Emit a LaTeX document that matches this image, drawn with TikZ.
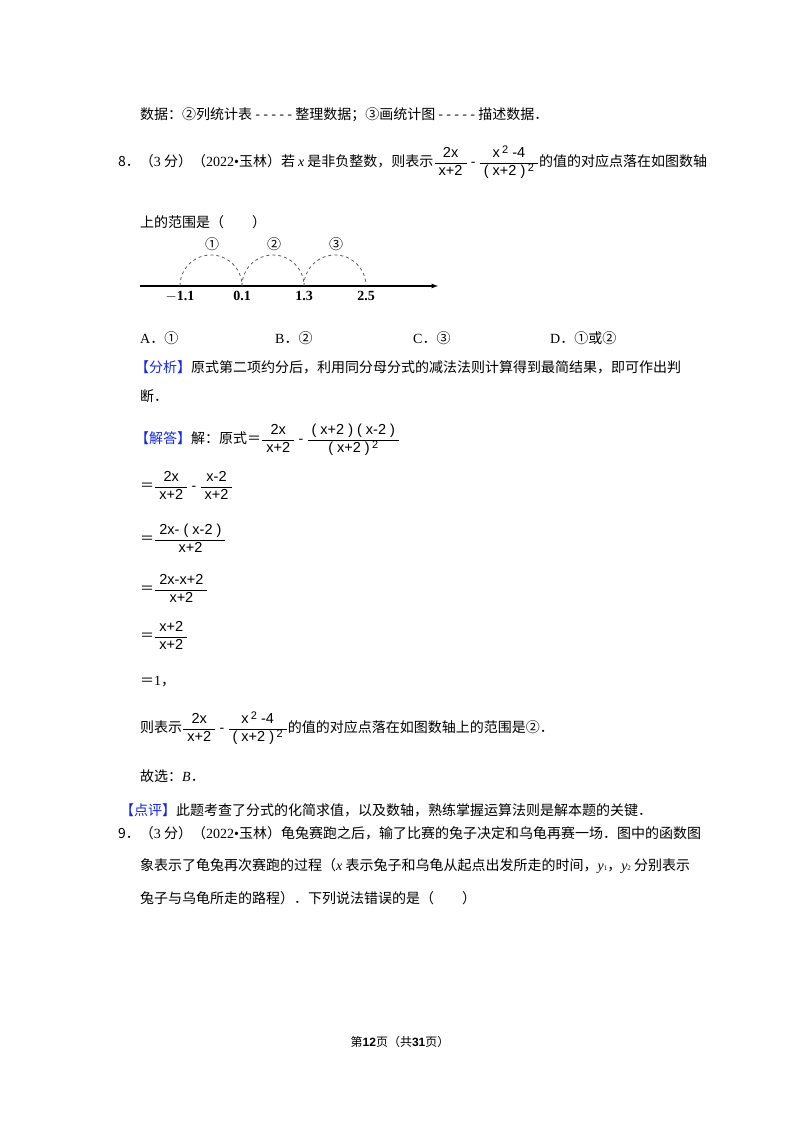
\documentclass[tikz,border=0pt]{standalone}
\usepackage{amsmath}
\usepackage{fontspec}
\setmainfont{Noto Sans CJK SC}
\newfontfamily\lat{Liberation Serif}
\newfontfamily\ar{Liberation Sans}
\newcommand\fr[2]{\ensuremath{\genfrac{}{}{0.6pt}{}{\hbox{\ar\fontsize{14.5}{17}\selectfont\strut\ #1\ }}{\hbox{\ar\fontsize{14.5}{17}\selectfont\strut\ #2\ }}}}
\newcommand\sq{\,\raisebox{0.5ex}{\fontsize{11}{12}\selectfont 2}}
\definecolor{tagblue}{RGB}{20,40,230}
\begin{document}
\begin{tikzpicture}[x=1pt,y=-1pt,
  t/.style={anchor=west,inner sep=0,font=\fontsize{14}{17}\selectfont},
  lbl/.style={inner sep=0,font=\lat\fontsize{14}{17}\selectfont\bfseries},
  arc/.style={dashed,line width=0.8pt,gray!70!black}]
\useasboundingbox (0,0) rectangle (800,1132);
\node[t] (l1) at (140,115) {数据：②列统计表 - - - - - 整理数据；③画统计图 - - - - - 描述数据．};
\node[t] (l2) at (118,163) {8．（{\lat 3} 分）（{\lat 2022•}玉林）若 {\lat\itshape x} 是非负整数，则表示\fr{2x}{x+2} {\ar -} \fr{x\sq\ -4}{( x+2 )\sq}的值的对应点落在如图数轴};
\node[t] (l3) at (140,222) {上的范围是（\quad\quad）};
% number line
\coordinate (s) at (140,286);
\coordinate (e) at (438,286);
\draw[line width=1.2pt,-latex] (s) -- (e);
\foreach \n/\x/\v in {a/180/{$-$1.1},b/242/0.1,c/304/1.3,d/366/2.5}{
  \coordinate (\n) at (\x,286);
  \node[lbl,anchor=north] at (\x,291) {\v};
}
\draw[arc] (a) arc[start angle=180,end angle=360,radius=31];
\draw[arc] (b) arc[start angle=180,end angle=360,radius=31];
\draw[arc] (c) arc[start angle=180,end angle=360,radius=31];
\node[t,anchor=center] (c1) at (212,244) {①};
\node[t,anchor=center] (c2) at (274,244) {②};
\node[t,anchor=center] (c3) at (336,244) {③};
\node[t] (oa) at (140,338) {{\lat A}．①};
\node[t] (ob) at (275,338) {{\lat B}．②};
\node[t] (oc) at (413,338) {{\lat C}．③};
\node[t] (od) at (550,338) {{\lat D}．①或②};
\node[t] (fx) at (135,367) {\textcolor{tagblue}{【分析】}原式第二项约分后，利用同分母分式的减法法则计算得到最简结果，即可作出判};
\node[t] (fx2) at (140,396) {断．};
\node[t] (jd) at (135,440) {\textcolor{tagblue}{【解答】}解：原式＝\fr{2x}{x+2} {\ar -} \fr{( x+2 ) ( x-2 )}{( x+2 )\sq}};
\node[t] (s1) at (140,487) {＝\fr{2x}{x+2} {\ar -} \fr{x-2}{x+2}};
\node[t] (s2) at (140,540) {＝\fr{2x- ( x-2 )}{x+2}};
\node[t] (s3) at (140,590) {＝\fr{2x-x+2}{x+2}};
\node[t] (s4) at (140,637) {＝\fr{x+2}{x+2}};
\node[t] (s5) at (140,682) {＝{\lat 1}，};
\node[t] (s6) at (140,729) {则表示\fr{2x}{x+2} {\ar -} \fr{x\sq\ -4}{( x+2 )\sq}的值的对应点落在如图数轴上的范围是②．};
\node[t] (s7) at (140,776) {故选：{\lat\itshape B}．};
\node[t] (dp) at (120,810) {\textcolor{tagblue}{【点评】}此题考查了分式的化简求值，以及数轴，熟练掌握运算法则是解本题的关键．};
\node[t] (q9) at (118,833) {9．（{\lat 3} 分）（{\lat 2022•}玉林）龟兔赛跑之后，输了比赛的兔子决定和乌龟再赛一场．图中的函数图};
\node[t] (q9b) at (140,866) {象表示了龟兔再次赛跑的过程（{\lat\itshape x} 表示兔子和乌龟从起点出发所走的时间，{\lat\itshape y}{\lat\scriptsize 1}，{\lat\itshape y}{\lat\scriptsize 2} 分别表示};
\node[t] (q9c) at (140,898) {兔子与乌龟所走的路程）．下列说法错误的是（\quad\quad）};
\node[inner sep=0,font=\fontsize{12}{14}\selectfont] (pg) at (400,1042) {第{\bfseries\ar 12}页（共{\bfseries\ar 31}页）};
\end{tikzpicture}
\end{document}
